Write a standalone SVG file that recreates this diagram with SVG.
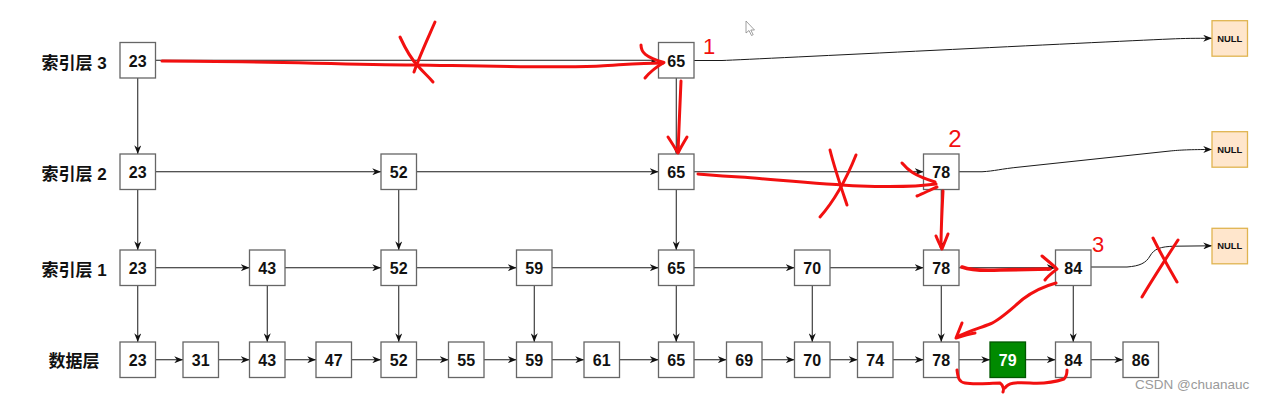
<svg xmlns="http://www.w3.org/2000/svg" width="1263" height="400" viewBox="0 0 1263 400">
<style>
.n rect{fill:#fff;stroke:#666;stroke-width:1.3}
.n text{font-family:"Liberation Sans",Arial,sans-serif;font-weight:bold;font-size:16px;fill:#111;text-anchor:middle}
.g rect{fill:#008a00;stroke:#005700;stroke-width:1.3}
.g text{fill:#fff}
.nl rect{fill:#ffe6cc;stroke:#e0b450;stroke-width:1.3}
.nl text{font-family:"Liberation Sans",Arial,sans-serif;font-weight:bold;font-size:9.4px;fill:#111;text-anchor:middle}
.lab{font-family:"Liberation Sans","Noto Sans CJK SC",sans-serif;font-weight:bold;font-size:17px;fill:#111;text-anchor:middle}
.c path{fill:none;stroke:#1a1a1a;stroke-width:1;marker-end:url(#a)}
.r path{fill:none;stroke:#f21010;stroke-width:3;stroke-linecap:round;stroke-linejoin:round}
.rt{font-family:"Liberation Sans",Arial,sans-serif;font-size:22px;fill:#f21010;text-anchor:middle}
.wm{font-family:"Liberation Sans",Arial,sans-serif;font-size:13.5px;fill:#9a9a9a}
</style>
<defs>
<marker id="a" viewBox="0 0 10 8" refX="10" refY="4" markerWidth="9" markerHeight="7" orient="auto" markerUnits="userSpaceOnUse">
<path d="M0,0 L10,4 L0,8 L3,4 z" fill="#111"/>
</marker>
</defs>
<rect width="1263" height="400" fill="#fff"/>

<!-- layer labels -->
<g id="labels">
<text class="lab" x="74" y="69">索引层 3</text>
<text class="lab" x="74" y="180">索引层 2</text>
<text class="lab" x="74" y="275.5">索引层 1</text>
<text class="lab" x="74" y="367">数据层</text>
</g>

<!-- connectors -->
<g id="connectors" class="c">
<!-- row 3 -->
<path d="M155.5,60.25 L658.5,60.25"/>
<path d="M694,60.5 L722,60.5 C760,59 1100,42 1170,39 C1185,38.3 1195,38.3 1212,38.3"/>
<!-- row 2 -->
<path d="M155.5,171.75 L381,171.75"/>
<path d="M416.5,171.75 L658.5,171.75"/>
<path d="M694,171.75 L923.5,171.75"/>
<path d="M959,171.75 L982,171.75 C995,171 1000,169 1020,167 L1170,151 C1180,150 1190,149.5 1212,149.5"/>
<!-- row 1 -->
<path d="M155.5,267.75 L249.5,267.75"/>
<path d="M285,267.75 L381,267.75"/>
<path d="M416.5,267.75 L516.5,267.75"/>
<path d="M552,267.75 L658.5,267.75"/>
<path d="M694,267.75 L794.5,267.75"/>
<path d="M830,267.75 L923.5,267.75"/>
<path d="M959,267.75 L1055.5,267.75"/>
<path d="M1091,267 L1127,267 C1140,266 1146,263 1150,256 C1154,249 1160,246.5 1175,246.2 L1212,245.8"/>
<!-- data row -->
<path d="M155.5,359.75 L183,359.75"/>
<path d="M218.5,359.75 L249.5,359.75"/>
<path d="M285,359.75 L316,359.75"/>
<path d="M351.5,359.75 L381,359.75"/>
<path d="M416.5,359.75 L448.5,359.75"/>
<path d="M484,359.75 L516.5,359.75"/>
<path d="M552,359.75 L584,359.75"/>
<path d="M619.5,359.75 L658.5,359.75"/>
<path d="M694,359.75 L726.5,359.75"/>
<path d="M762,359.75 L794.5,359.75"/>
<path d="M830,359.75 L857.5,359.75"/>
<path d="M893,359.75 L923.5,359.75"/>
<path d="M959,359.75 L990,359.75"/>
<path d="M1025.5,359.75 L1055.5,359.75"/>
<path d="M1091,359.75 L1123,359.75"/>
<!-- verticals row3 -> row2 -->
<path d="M137.75,78 L137.75,154"/>
<path d="M676.25,78 L676.25,154"/>
<!-- verticals row2 -> row1 -->
<path d="M137.75,189.5 L137.75,250"/>
<path d="M398.75,189.5 L398.75,250"/>
<path d="M676.25,189.5 L676.25,250"/>
<path d="M941.25,189.5 L941.25,250"/>
<!-- verticals row1 -> data -->
<path d="M137.75,285.5 L137.75,342"/>
<path d="M267.25,285.5 L267.25,342"/>
<path d="M398.75,285.5 L398.75,342"/>
<path d="M534.25,285.5 L534.25,342"/>
<path d="M676.25,285.5 L676.25,342"/>
<path d="M812.25,285.5 L812.25,342"/>
<path d="M941.25,285.5 L941.25,342"/>
<path d="M1073.25,285.5 L1073.25,342"/>
</g>

<!-- row 3 nodes -->
<g id="r3-23" class="n"><rect x="120" y="42.5" width="35.5" height="35.5"/><text x="137.75" y="66.5">23</text></g>
<g id="r3-65" class="n"><rect x="658.5" y="42.5" width="35.5" height="35.5"/><text x="676.25" y="66.5">65</text></g>
<!-- row 2 nodes -->
<g id="r2-23" class="n"><rect x="120" y="154" width="35.5" height="35.5"/><text x="137.75" y="177.75">23</text></g>
<g id="r2-52" class="n"><rect x="381" y="154" width="35.5" height="35.5"/><text x="398.75" y="177.75">52</text></g>
<g id="r2-65" class="n"><rect x="658.5" y="154" width="35.5" height="35.5"/><text x="676.25" y="177.75">65</text></g>
<g id="r2-78" class="n"><rect x="923.5" y="154" width="35.5" height="35.5"/><text x="941.25" y="177.75">78</text></g>
<!-- row 1 nodes -->
<g id="r1-23" class="n"><rect x="120" y="250" width="35.5" height="35.5"/><text x="137.75" y="273.75">23</text></g>
<g id="r1-43" class="n"><rect x="249.5" y="250" width="35.5" height="35.5"/><text x="267.25" y="273.75">43</text></g>
<g id="r1-52" class="n"><rect x="381" y="250" width="35.5" height="35.5"/><text x="398.75" y="273.75">52</text></g>
<g id="r1-59" class="n"><rect x="516.5" y="250" width="35.5" height="35.5"/><text x="534.25" y="273.75">59</text></g>
<g id="r1-65" class="n"><rect x="658.5" y="250" width="35.5" height="35.5"/><text x="676.25" y="273.75">65</text></g>
<g id="r1-70" class="n"><rect x="794.5" y="250" width="35.5" height="35.5"/><text x="812.25" y="273.75">70</text></g>
<g id="r1-78" class="n"><rect x="923.5" y="250" width="35.5" height="35.5"/><text x="941.25" y="273.75">78</text></g>
<g id="r1-84" class="n"><rect x="1055.5" y="250" width="35.5" height="35.5"/><text x="1073.25" y="273.75">84</text></g>
<!-- data nodes -->
<g id="d-23" class="n"><rect x="120" y="342" width="35.5" height="35.5"/><text x="137.75" y="365.75">23</text></g>
<g id="d-31" class="n"><rect x="183" y="342" width="35.5" height="35.5"/><text x="200.75" y="365.75">31</text></g>
<g id="d-43" class="n"><rect x="249.5" y="342" width="35.5" height="35.5"/><text x="267.25" y="365.75">43</text></g>
<g id="d-47" class="n"><rect x="316" y="342" width="35.5" height="35.5"/><text x="333.75" y="365.75">47</text></g>
<g id="d-52" class="n"><rect x="381" y="342" width="35.5" height="35.5"/><text x="398.75" y="365.75">52</text></g>
<g id="d-55" class="n"><rect x="448.5" y="342" width="35.5" height="35.5"/><text x="466.25" y="365.75">55</text></g>
<g id="d-59" class="n"><rect x="516.5" y="342" width="35.5" height="35.5"/><text x="534.25" y="365.75">59</text></g>
<g id="d-61" class="n"><rect x="584" y="342" width="35.5" height="35.5"/><text x="601.75" y="365.75">61</text></g>
<g id="d-65" class="n"><rect x="658.5" y="342" width="35.5" height="35.5"/><text x="676.25" y="365.75">65</text></g>
<g id="d-69" class="n"><rect x="726.5" y="342" width="35.5" height="35.5"/><text x="744.25" y="365.75">69</text></g>
<g id="d-70" class="n"><rect x="794.5" y="342" width="35.5" height="35.5"/><text x="812.25" y="365.75">70</text></g>
<g id="d-74" class="n"><rect x="857.5" y="342" width="35.5" height="35.5"/><text x="875.25" y="365.75">74</text></g>
<g id="d-78" class="n"><rect x="923.5" y="342" width="35.5" height="35.5"/><text x="941.25" y="365.75">78</text></g>
<g id="d-79" class="n g"><rect x="990" y="342" width="35.5" height="35.5"/><text x="1007.75" y="365.75">79</text></g>
<g id="d-84" class="n"><rect x="1055.5" y="342" width="35.5" height="35.5"/><text x="1073.25" y="365.75">84</text></g>
<g id="d-86" class="n"><rect x="1123" y="342" width="35.5" height="35.5"/><text x="1140.75" y="365.75">86</text></g>
<!-- NULL nodes -->
<g id="null-3" class="nl"><rect x="1212" y="20.7" width="35.5" height="35.5"/><text x="1229.75" y="41.8">NULL</text></g>
<g id="null-2" class="nl"><rect x="1212" y="131.7" width="35.5" height="35.5"/><text x="1229.75" y="152.8">NULL</text></g>
<g id="null-1" class="nl"><rect x="1212" y="228.3" width="35.5" height="35.5"/><text x="1229.75" y="249.4">NULL</text></g>

<!-- red hand annotations -->
<g id="annotations" class="r">
<path d="M162,61 C250,61 330,64 415,65 C480,66 560,68 600,66 C620,65 640,63 663,63"/>
<path d="M641,45 C641,52 645,57 664,62.5 C656,67 650,72 645,78"/>
<path d="M400,37 C406,50 412,60 418,66 C423,72 428,76 433,82"/>
<path d="M435,22 C428,38 420,55 414,72"/>
<path d="M681,81 C680,100 679,130 678,152"/>
<path d="M668,137 C672,143 675,148 678,153 C681,147 684,142 687,137"/>
<path d="M698,174 C710,175 720,176 740,177 C780,180 820,184 860,186 C890,187 915,187 936,184"/>
<path d="M902,163 C908,170 913,175 935,182"/>
<path d="M917,196 C924,193 930,190 937,187"/>
<path d="M830,150 C835,170 842,190 847,205"/>
<path d="M856,155 C848,175 835,200 820,217"/>
<path d="M943,191 C942,210 941,230 941,247"/>
<path d="M936,236 C938,241 940,245 942,249 C944,244 946,239 948,234"/>
<path d="M962,267 C970,270 980,271 1000,270 L1050,269" style="stroke-width:3.6"/>
<path d="M1042,256 C1048,261 1053,265 1057,269 C1052,273 1048,276 1045,280"/>
<path d="M1056,283 C1045,286 1035,290 1023,299 C1010,310 1000,320 990,324 C980,328 968,331 957,337"/>
<path d="M962,323 C960,328 958,333 956,338 C962,336 968,334 975,333"/>
<path d="M957,370 C958,378 959,382 965,383 C975,385 990,383 1000,383 C1003,385 1004,389 1003,392 M1005,388 C1008,383 1015,382 1030,383 C1045,384 1058,381 1064,379 C1067,376 1067,373 1067,370"/>
<path d="M1153,238 C1160,252 1170,270 1177,282"/>
<path d="M1178,240 C1165,260 1152,280 1142,297"/>
</g>
<g id="annotation-numbers">
<text class="rt" x="709" y="54">1</text>
<text class="rt" x="955" y="147" style="font-size:24px">2</text>
<text class="rt" x="1098" y="252">3</text>
</g>

<!-- mouse pointer -->
<path d="M746,21 L746,33 L749,30.5 L751.5,35.5 L753.2,34.7 L750.8,30 L754.5,30 Z" fill="#fff" stroke="#888" stroke-width="0.8"/>

<!-- watermark -->
<text class="wm" x="1135" y="389">CSDN @chuanauc</text>
</svg>
